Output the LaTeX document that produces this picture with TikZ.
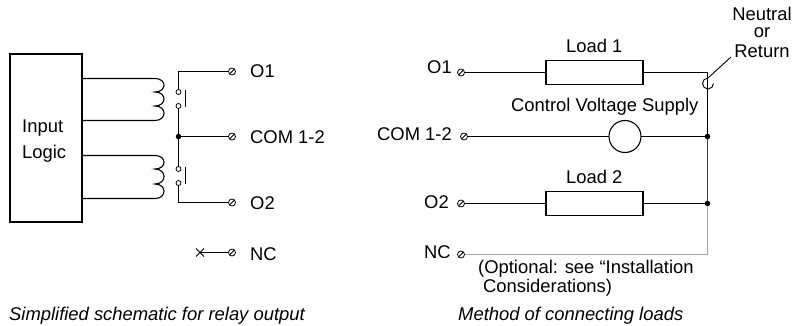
\documentclass[tikz,border=0pt]{standalone}
\usepackage{fontspec}
\setmainfont{Liberation Sans}
\tikzset{
  wire/.style={draw=black,line width=1.1pt},
  grayline/.style={draw=black!35,line width=1.1pt},
  blockbox/.style={draw=black,line width=1.1pt,fill=white,inner sep=0pt,outer sep=0pt},
  terminal/.style={circle,draw=black,line width=0.8pt,fill=white,minimum size=7pt,inner sep=0pt,outer sep=0pt,
    path picture={\draw[line width=0.8pt] (path picture bounding box.south west)--(path picture bounding box.north east);}},
  contact/.style={circle,draw=black,line width=0.8pt,fill=white,minimum size=5pt,inner sep=0pt,outer sep=0pt},
  junction/.style={circle,fill=black,minimum size=5.5pt,inner sep=0pt,outer sep=0pt},
  lab/.style={font=\fontsize{18.4pt}{20pt}\selectfont,inner sep=0pt,anchor=base west,text=black},
  labc/.style={lab,anchor=base},
  captiontext/.style={lab,font=\fontsize{18.4pt}{20pt}\selectfont\itshape}
}
\begin{document}
\begin{tikzpicture}[x=1pt,y=-1pt]
\useasboundingbox (0,0) rectangle (795,326);
% --- left: relay output
\node[blockbox,minimum width=72pt,minimum height=168pt] (logic) at (46,138) {};
\node[lab] (logiclabel) at (22,133) {Input};
\node[lab] (logiclabelb) at (22,158) {Logic};
\coordinate (c1a) at (155,78.5); \coordinate (c1b) at (155,92); \coordinate (c1c) at (155,106); \coordinate (c1d) at (155,120.5);
\coordinate (c2a) at (155,155.5); \coordinate (c2b) at (155,169); \coordinate (c2c) at (155,184); \coordinate (c2d) at (155,198.5);
\coordinate (l1a) at (82,78.5); \coordinate (l1d) at (82,120.5); \coordinate (l2a) at (82,155.5); \coordinate (l2d) at (82,198.5);
\draw[wire] (l1a) -- (c1a) .. controls (167,78.5) and (167,92) .. (c1b)
  .. controls (167,92) and (167,106) .. (c1c) .. controls (167,106) and (167,120.5) .. (c1d) -- (l1d);
\draw[wire] (l2a) -- (c2a) .. controls (167,155.5) and (167,169) .. (c2b)
  .. controls (167,169) and (167,184) .. (c2c) .. controls (167,184) and (167,198.5) .. (c2d) -- (l2d);
\node[terminal] (to1) at (232,71.5) {};
\node[terminal] (tcom) at (232,136.5) {};
\node[terminal] (to2) at (232,202.5) {};
\node[terminal] (tnc) at (232,252.5) {};
\node[junction] (jc) at (178.5,136.5) {};
\coordinate (tl) at (178.5,71.5);
\coordinate (bl) at (178.5,202.5);
\node[contact] (k1) at (178.5,92) {};
\node[contact] (k2) at (178.5,106) {};
\node[contact] (k3) at (178.5,169) {};
\node[contact] (k4) at (178.5,183) {};
\draw[wire] (to1) -- (tl) -- (k1);
\draw[wire] (k2) -- (jc) -- (k3);
\draw[wire] (k4) -- (bl) -- (to2);
\draw[wire] (jc) -- (tcom);
\coordinate (b1a) at (185.5,90); \coordinate (b1b) at (185.5,107);
\coordinate (b2a) at (185.5,167); \coordinate (b2b) at (185.5,184);
\draw[wire] (b1a) -- (b1b);
\draw[wire] (b2a) -- (b2b);
\coordinate (xc) at (200,252.5);
\draw[wire] (xc) -- (tnc);
\draw[line width=0.8pt] (196,248.5) -- (204,256.5) (196,256.5) -- (204,248.5);
\node[lab] (lo1) at (250,78) {O1};
\node[lab] (lcom) at (250,143) {COM 1-2};
\node[lab] (lo2) at (250,209) {O2};
\node[lab] (lnc) at (250,260) {NC};
\node[captiontext] (capl) at (9,320) {Simplified schematic for relay output};
% --- right: loads
\node[terminal] (ro1) at (461,72.5) {};
\node[terminal] (rcom) at (464,136.5) {};
\node[terminal] (ro2) at (461,203.5) {};
\node[terminal] (rnc) at (461,254.5) {};
\node[lab] (lro1) at (427,74) {O1};
\node[lab] (lrcom) at (377,141) {COM 1-2};
\node[lab] (lro2) at (424,208) {O2};
\node[lab] (lrnc) at (424,258) {NC};
\node[blockbox,minimum width=97pt,minimum height=24pt] (load1) at (594.5,72.5) {};
\node[blockbox,minimum width=97pt,minimum height=24pt] (load2) at (594.5,203.5) {};
\node[circle,draw=black,line width=1.1pt,fill=white,minimum size=32pt,inner sep=0pt,outer sep=0pt] (supply) at (625,136.5) {};
\node[lab] (ll1) at (566,53) {Load 1};
\node[lab] (ll2) at (566,183) {Load 2};
\node[lab] (lcv) at (511,112) {Control Voltage Supply};
\coordinate (corner) at (707.5,72.5);
\node[junction] (j1) at (707.5,136.5) {};
\node[junction] (j2) at (707.5,203.5) {};
\coordinate (nccorner) at (707.5,254.5);
\draw[grayline] (rnc) -- (nccorner) -- (j2);
\draw[wire] (ro1) -- (load1) -- (corner) -- (j1);
\draw[wire,line width=1.3pt,draw=black!75] (j1) -- (j2);
\draw[wire] (rcom) -- (supply) -- (j1);
\draw[wire] (ro2) -- (load2) -- (j2);
\coordinate (hooktop) at (708,78);
\coordinate (ptr) at (731,57);
\draw[draw=black,line width=0.9pt] (ptr) -- (hooktop);
\draw[draw=black,line width=0.9pt] (hooktop) arc[start angle=90,end angle=360,radius=5.5pt];
\node[labc] (neutral) at (762,20.5) {Neutral};
\node[labc] (orr) at (762,38) {or};
\node[labc] (ret) at (762,58) {Return};
\node[lab] (opt1) at (478,273) {(Optional: see “Installation};
\node[lab] (opt2) at (483,292) {Considerations)};
\node[captiontext] (capr) at (458,320) {Method of connecting loads};
\end{tikzpicture}
\end{document}
